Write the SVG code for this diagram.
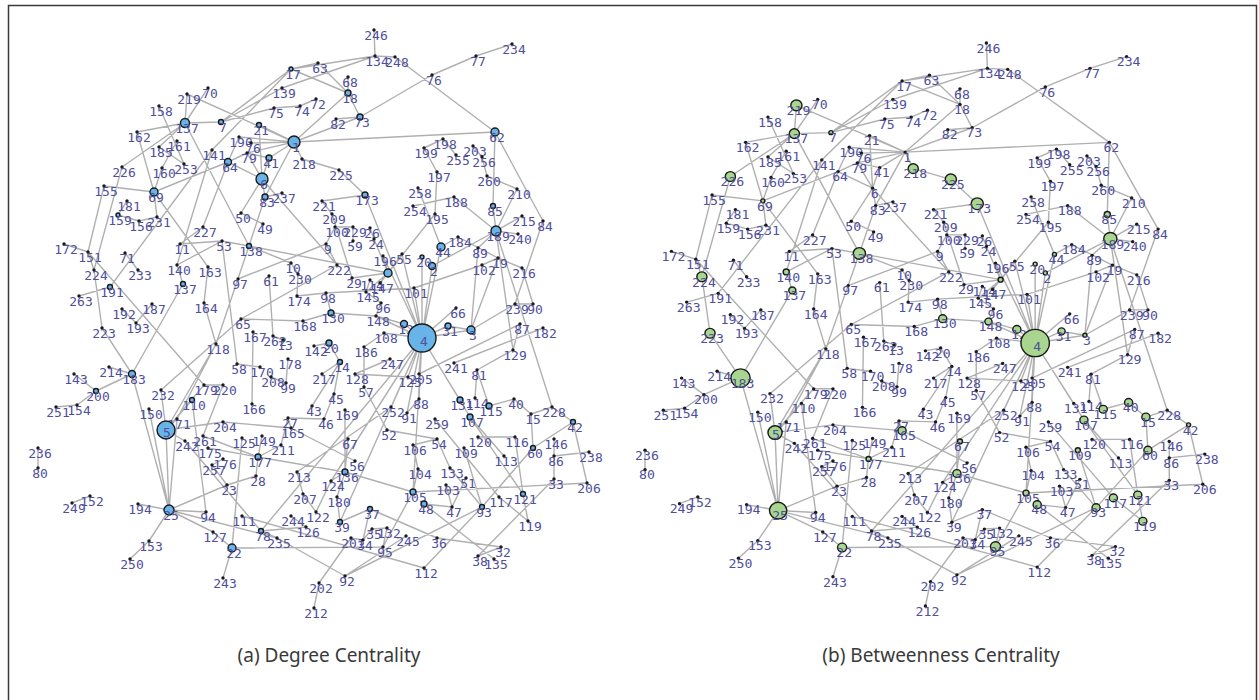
<svg xmlns="http://www.w3.org/2000/svg" xmlns:xlink="http://www.w3.org/1999/xlink" width="1259" height="700" viewBox="0 0 1259 700">
<style>
.edges{fill:none;stroke:#b0b0b0;stroke-width:1.4}
text{font-family:"DejaVu Sans Mono","Liberation Mono",monospace;font-size:13px;fill:#4f4f9c;text-anchor:middle}
.d{fill:#1a1a1a}
#panel-a .r{fill:#68b4e8;stroke:#1a1a1a;stroke-width:1.4}
#panel-b .r{fill:#a8d68e;stroke:#1a1a1a;stroke-width:1.4}
.cap{font-family:"Noto Sans","Open Sans",sans-serif;font-size:19px;fill:#3a3a3a;text-anchor:middle}
</style>
<rect x="0" y="0" width="1259" height="700" fill="#fff"/>
<rect x="8.5" y="5.5" width="1248" height="700" fill="none" stroke="#3a3a3a" stroke-width="1.5"/>
<g id="panel-a">
<g id="edges-a" class="edges"><path id="edgepath" d="M374,30L375,56M375,56L395,57M291,69L375,56M282,88L375,56M395,57L495,132M432,75L476,56M476,56L512,44M360,117L432,75M291,69L318,63M291,69L348,93M318,63L348,93M348,77L348,93M348,93L360,117M336,119L360,117M294,142L348,93M294,142L360,117M294,142L495,132M221,122L291,69M221,122L274,108M274,108L300,106M300,106L316,99M221,122L282,88M208,88L185,123M187,94L185,123M187,94L294,142M159,106L184,164M137,132L185,123M137,132L154,192M122,167L185,123M185,123L221,122M185,123L159,147M159,147L184,164M177,141L162,168M162,168L154,192M185,123L249,246M212,150L177,265M212,150L291,69M154,192L228,162M228,162L247,153M239,137L294,142M251,143L294,142M247,153L294,142M247,153L269,158M259,125L294,142M259,125L262,179M294,142L265,197M302,159L339,170M294,142L302,159M262,179L265,197M262,179L269,158M262,179L247,153M228,162L262,179M262,179L337,265M265,197L282,193M265,197L249,246M241,213L263,224M241,213L262,179M203,227L228,162M203,227L180,244M180,244L222,241M222,241L249,246M249,246L291,263M64,244L88,252M88,252L94,270M88,252L204,385M94,270L102,328M79,296L110,287M110,287L212,150M125,253L138,270M122,309L136,323M136,323L152,304M177,265L183,284M183,284L132,374M208,267L204,303M204,303L216,344M222,241L237,364M249,246L216,344M238,279L326,244M269,276L273,336M241,319L337,265M339,170L365,195M322,201L365,195M365,195L422,338M104,186L154,192M104,186L88,252M122,167L94,270M154,192L157,217M118,215L139,221M127,201L118,215M154,192L208,267M177,265L222,241M139,221L157,217M443,139L424,148M443,139L456,155M424,148L437,172M437,172L435,214M473,146L482,157M482,157L487,176M487,176L517,189M517,189L496,231M418,188L441,247M413,206L454,197M435,214L388,273M518,234L496,231M458,237L441,247M458,237L498,258M498,258L522,268M441,247L422,338M432,266L422,338M422,257L422,338M432,266L496,231M482,265L414,288M482,265L498,258M478,248L471,330M498,258L471,330M471,330L515,304M471,330L448,326M448,326L422,338M471,330L422,338M456,308L422,338M454,363L543,328M477,370L513,350M477,370L475,398M477,370L489,406M489,406L514,399M514,399L531,414M515,304L533,304M533,304L522,268M543,221L515,304M495,132L493,206M495,132L543,221M493,206L496,231M522,216L496,231M496,231L454,197M496,231L478,248M496,231L513,350M496,231L552,407M419,374L520,324M520,324L513,350M422,338L419,374M422,338L408,377M422,338L419,399M422,338L407,413M422,338L391,407M422,338L460,400M422,338L470,417M422,338L413,492M422,338L331,481M422,338L340,522M422,338L404,324M422,338L384,333M422,338L376,316M422,338L414,288M422,338L402,254M422,338L383,256M132,374L109,367M132,374L96,391M96,391L74,374M96,391L77,405M77,405L56,407M132,374L169,510M132,374L102,328M166,430L161,390M166,430L177,419M166,430L223,422M166,430L216,344M166,430L204,385M166,430L169,510M177,419L169,510M149,409L169,510M192,400L206,512M192,400L166,430M204,385L223,385M223,422L291,428M203,436L258,457M208,448L258,457M258,457L345,472M345,472L413,492M185,441L261,531M185,441L166,430M227,485L256,476M169,510L227,485M169,510L206,512M169,510L213,532M213,532L232,548M169,510L277,538M169,510L149,541M149,541L130,559M138,504L169,510M232,548L383,547M232,548L223,578M232,548L242,438M242,516L424,568M297,472L303,494M297,472L391,407M291,428L355,461M345,472L348,439M345,472L337,497M337,497L340,522M345,472L345,410M331,481L316,512M370,509L340,522M370,509L437,538M370,509L363,540M351,538L319,583M319,583L314,608M345,576L482,507M277,538L345,576M261,531L422,338M261,531L277,538M383,547L413,492M437,538L501,547M501,547L478,556M478,556L554,479M424,504L494,559M424,504L452,507M413,492L587,483M418,469L413,492M446,485L452,507M387,430L437,439M364,387L387,430M407,413L419,399M435,419L499,497M413,445L418,469M413,445L437,439M464,448L482,507M478,437L515,437M515,437L523,494M523,494L528,521M523,494L470,417M533,448L531,414M533,448L573,422M533,448L482,507M573,422L587,483M573,422L552,407M552,407L531,414M554,439L554,456M554,456L589,452M554,456L554,479M504,456L470,417M437,439L450,468M450,468L482,507M466,478L452,507M528,521L499,497M424,568L482,507M38,448L38,468M90,496L72,503M326,244L337,265M388,273L374,239M388,273L383,256M388,273L402,254M388,273L249,246M366,292L381,303M381,303L376,316M376,316L331,313M331,313L326,293M326,293L414,288M376,316L404,324M303,321L331,313M241,319L303,321M297,296L298,274M291,263L298,274M297,296L326,293M314,346L329,343M329,343L340,362M340,362L322,374M340,362L334,394M334,394L324,419M312,406L340,362M355,374L408,377M355,374L390,359M364,347L384,333M288,359L286,383M271,377L286,383M260,367L237,364M253,332L252,404M283,340L273,336M366,292L388,273M380,283L388,273M370,280L366,292M352,278L388,273M353,241L353,227M353,227L335,227M370,228L374,239M335,227L326,244M332,214L322,201M332,214L352,278M364,387L364,347M262,436L258,457M281,445L288,418M281,445L258,457M288,418L324,419M291,428L288,418M256,476L258,457M223,459L212,465M212,465L227,485M291,516L306,527M306,527L261,531M331,481L345,472M303,494L316,512M372,529L387,528M387,528L383,547M406,536L345,576M363,540L372,529M351,538L363,540M177,419L216,344M223,385L203,436M241,319L161,390M294,142L269,158M228,162L239,137"/></g>
<g id="a246"><circle class="d" cx="374" cy="30" r="1.7"/><text x="376" y="40">246</text></g>
<g id="a134"><circle class="d" cx="375" cy="56" r="1.7"/><text x="377" y="66">134</text></g>
<g id="a248"><circle class="d" cx="395" cy="57" r="1.7"/><text x="397" y="67">248</text></g>
<g id="a234"><circle class="d" cx="512" cy="44" r="1.7"/><text x="514" y="54">234</text></g>
<g id="a77"><circle class="d" cx="476" cy="56" r="1.7"/><text x="478" y="66">77</text></g>
<g id="a76"><circle class="d" cx="432" cy="75" r="1.7"/><text x="434" y="85">76</text></g>
<g id="a17"><circle class="r" cx="291" cy="69" r="2"/><text x="293" y="79">17</text></g>
<g id="a63"><circle class="d" cx="318" cy="63" r="1.7"/><text x="320" y="73">63</text></g>
<g id="a68"><circle class="d" cx="348" cy="77" r="1.7"/><text x="350" y="87">68</text></g>
<g id="a18"><circle class="r" cx="348" cy="93" r="3"/><text x="350" y="103">18</text></g>
<g id="a139"><circle class="d" cx="282" cy="88" r="1.7"/><text x="284" y="98">139</text></g>
<g id="a72"><circle class="d" cx="316" cy="99" r="1.7"/><text x="318" y="109">72</text></g>
<g id="a75"><circle class="d" cx="274" cy="108" r="1.7"/><text x="276" y="118">75</text></g>
<g id="a74"><circle class="d" cx="300" cy="106" r="1.7"/><text x="302" y="116">74</text></g>
<g id="a82"><circle class="d" cx="336" cy="119" r="1.7"/><text x="338" y="129">82</text></g>
<g id="a73"><circle class="r" cx="360" cy="117" r="3"/><text x="362" y="127">73</text></g>
<g id="a219"><circle class="d" cx="187" cy="94" r="1.7"/><text x="189" y="104">219</text></g>
<g id="a70"><circle class="d" cx="208" cy="88" r="1.7"/><text x="210" y="98">70</text></g>
<g id="a158"><circle class="d" cx="159" cy="106" r="1.7"/><text x="161" y="116">158</text></g>
<g id="a137"><circle class="r" cx="185" cy="123" r="4.5"/><text x="187" y="133">137</text></g>
<g id="a7"><circle class="r" cx="221" cy="122" r="2.5"/><text x="223" y="132">7</text></g>
<g id="a162"><circle class="d" cx="137" cy="132" r="1.7"/><text x="139" y="142">162</text></g>
<g id="a161"><circle class="d" cx="177" cy="141" r="1.7"/><text x="179" y="151">161</text></g>
<g id="a185"><circle class="d" cx="159" cy="147" r="1.7"/><text x="161" y="157">185</text></g>
<g id="a141"><circle class="d" cx="212" cy="150" r="1.7"/><text x="214" y="160">141</text></g>
<g id="a64"><circle class="r" cx="228" cy="162" r="3.5"/><text x="230" y="172">64</text></g>
<g id="a226"><circle class="d" cx="122" cy="167" r="1.7"/><text x="124" y="177">226</text></g>
<g id="a160"><circle class="d" cx="162" cy="168" r="1.7"/><text x="164" y="178">160</text></g>
<g id="a253"><circle class="d" cx="184" cy="164" r="1.7"/><text x="186" y="174">253</text></g>
<g id="a155"><circle class="d" cx="104" cy="186" r="1.7"/><text x="106" y="196">155</text></g>
<g id="a69"><circle class="r" cx="154" cy="192" r="4"/><text x="156" y="202">69</text></g>
<g id="a181"><circle class="d" cx="127" cy="201" r="1.7"/><text x="129" y="211">181</text></g>
<g id="a159"><circle class="r" cx="118" cy="215" r="2"/><text x="120" y="225">159</text></g>
<g id="a156"><circle class="d" cx="139" cy="221" r="1.7"/><text x="141" y="231">156</text></g>
<g id="a231"><circle class="d" cx="157" cy="217" r="1.7"/><text x="159" y="227">231</text></g>
<g id="a21"><circle class="r" cx="259" cy="125" r="2.5"/><text x="261" y="135">21</text></g>
<g id="a190"><circle class="d" cx="239" cy="137" r="1.7"/><text x="241" y="147">190</text></g>
<g id="a76-2"><circle class="d" cx="251" cy="143" r="1.7"/><text x="253" y="153">76</text></g>
<g id="a1"><circle class="r" cx="294" cy="142" r="6"/><text x="296" y="152">1</text></g>
<g id="a79"><circle class="d" cx="247" cy="153" r="1.7"/><text x="249" y="163">79</text></g>
<g id="a41"><circle class="r" cx="269" cy="158" r="3"/><text x="271" y="168">41</text></g>
<g id="a218"><circle class="d" cx="302" cy="159" r="1.7"/><text x="304" y="169">218</text></g>
<g id="a225"><circle class="d" cx="339" cy="170" r="1.7"/><text x="341" y="180">225</text></g>
<g id="a6"><circle class="r" cx="262" cy="179" r="6"/><text x="264" y="189">6</text></g>
<g id="a83"><circle class="r" cx="265" cy="197" r="3"/><text x="267" y="207">83</text></g>
<g id="a237"><circle class="d" cx="282" cy="193" r="1.7"/><text x="284" y="203">237</text></g>
<g id="a221"><circle class="d" cx="322" cy="201" r="1.7"/><text x="324" y="211">221</text></g>
<g id="a173"><circle class="r" cx="365" cy="195" r="3"/><text x="367" y="205">173</text></g>
<g id="a209"><circle class="d" cx="332" cy="214" r="1.7"/><text x="334" y="224">209</text></g>
<g id="a50"><circle class="d" cx="241" cy="213" r="1.7"/><text x="243" y="223">50</text></g>
<g id="a49"><circle class="d" cx="263" cy="224" r="1.7"/><text x="265" y="234">49</text></g>
<g id="a62"><circle class="r" cx="495" cy="132" r="4"/><text x="497" y="142">62</text></g>
<g id="a198"><circle class="d" cx="443" cy="139" r="1.7"/><text x="445" y="149">198</text></g>
<g id="a199"><circle class="d" cx="424" cy="148" r="1.7"/><text x="426" y="158">199</text></g>
<g id="a203"><circle class="d" cx="473" cy="146" r="1.7"/><text x="475" y="156">203</text></g>
<g id="a255"><circle class="d" cx="456" cy="155" r="1.7"/><text x="458" y="165">255</text></g>
<g id="a256"><circle class="d" cx="482" cy="157" r="1.7"/><text x="484" y="167">256</text></g>
<g id="a197"><circle class="d" cx="437" cy="172" r="1.7"/><text x="439" y="182">197</text></g>
<g id="a260"><circle class="d" cx="487" cy="176" r="1.7"/><text x="489" y="186">260</text></g>
<g id="a258"><circle class="d" cx="418" cy="188" r="1.7"/><text x="420" y="198">258</text></g>
<g id="a210"><circle class="d" cx="517" cy="189" r="1.7"/><text x="519" y="199">210</text></g>
<g id="a188"><circle class="d" cx="454" cy="197" r="1.7"/><text x="456" y="207">188</text></g>
<g id="a85"><circle class="r" cx="493" cy="206" r="2.5"/><text x="495" y="216">85</text></g>
<g id="a254"><circle class="d" cx="413" cy="206" r="1.7"/><text x="415" y="216">254</text></g>
<g id="a195"><circle class="d" cx="435" cy="214" r="1.7"/><text x="437" y="224">195</text></g>
<g id="a215"><circle class="d" cx="522" cy="216" r="1.7"/><text x="524" y="226">215</text></g>
<g id="a84"><circle class="d" cx="543" cy="221" r="1.7"/><text x="545" y="231">84</text></g>
<g id="a227"><circle class="d" cx="203" cy="227" r="1.7"/><text x="205" y="237">227</text></g>
<g id="a172"><circle class="d" cx="64" cy="244" r="1.7"/><text x="66" y="254">172</text></g>
<g id="a151"><circle class="d" cx="88" cy="252" r="1.7"/><text x="90" y="262">151</text></g>
<g id="a11"><circle class="d" cx="180" cy="244" r="1.7"/><text x="182" y="254">11</text></g>
<g id="a53"><circle class="d" cx="222" cy="241" r="1.7"/><text x="224" y="251">53</text></g>
<g id="a71"><circle class="d" cx="125" cy="253" r="1.7"/><text x="127" y="263">71</text></g>
<g id="a140"><circle class="d" cx="177" cy="265" r="1.7"/><text x="179" y="275">140</text></g>
<g id="a163"><circle class="d" cx="208" cy="267" r="1.7"/><text x="210" y="277">163</text></g>
<g id="a224"><circle class="d" cx="94" cy="270" r="1.7"/><text x="96" y="280">224</text></g>
<g id="a233"><circle class="d" cx="138" cy="270" r="1.7"/><text x="140" y="280">233</text></g>
<g id="a137-2"><circle class="r" cx="183" cy="284" r="2.5"/><text x="185" y="294">137</text></g>
<g id="a191"><circle class="r" cx="110" cy="287" r="2.5"/><text x="112" y="297">191</text></g>
<g id="a263"><circle class="d" cx="79" cy="296" r="1.7"/><text x="81" y="306">263</text></g>
<g id="a164"><circle class="d" cx="204" cy="303" r="1.7"/><text x="206" y="313">164</text></g>
<g id="a192"><circle class="d" cx="122" cy="309" r="1.7"/><text x="124" y="319">192</text></g>
<g id="a187"><circle class="d" cx="152" cy="304" r="1.7"/><text x="154" y="314">187</text></g>
<g id="a193"><circle class="d" cx="136" cy="323" r="1.7"/><text x="138" y="333">193</text></g>
<g id="a223"><circle class="d" cx="102" cy="328" r="1.7"/><text x="104" y="338">223</text></g>
<g id="a118"><circle class="d" cx="216" cy="344" r="1.7"/><text x="218" y="354">118</text></g>
<g id="a214"><circle class="d" cx="109" cy="367" r="1.7"/><text x="111" y="377">214</text></g>
<g id="a183"><circle class="r" cx="132" cy="374" r="3.5"/><text x="134" y="384">183</text></g>
<g id="a143"><circle class="d" cx="74" cy="374" r="1.7"/><text x="76" y="384">143</text></g>
<g id="a200"><circle class="r" cx="96" cy="391" r="2.5"/><text x="98" y="401">200</text></g>
<g id="a232"><circle class="d" cx="161" cy="390" r="1.7"/><text x="163" y="400">232</text></g>
<g id="a110"><circle class="r" cx="192" cy="400" r="2.5"/><text x="194" y="410">110</text></g>
<g id="a179"><circle class="d" cx="204" cy="385" r="1.7"/><text x="206" y="395">179</text></g>
<g id="a220"><circle class="d" cx="223" cy="385" r="1.7"/><text x="225" y="395">220</text></g>
<g id="a150"><circle class="d" cx="149" cy="409" r="1.7"/><text x="151" y="419">150</text></g>
<g id="a251"><circle class="d" cx="56" cy="407" r="1.7"/><text x="58" y="417">251</text></g>
<g id="a154"><circle class="d" cx="77" cy="405" r="1.7"/><text x="79" y="415">154</text></g>
<g id="a100"><circle class="d" cx="335" cy="227" r="1.7"/><text x="337" y="237">100</text></g>
<g id="a229"><circle class="d" cx="353" cy="227" r="1.7"/><text x="355" y="237">229</text></g>
<g id="a26"><circle class="d" cx="370" cy="228" r="1.7"/><text x="372" y="238">26</text></g>
<g id="a24"><circle class="d" cx="374" cy="239" r="1.7"/><text x="376" y="249">24</text></g>
<g id="a9"><circle class="d" cx="326" cy="244" r="1.7"/><text x="328" y="254">9</text></g>
<g id="a59"><circle class="d" cx="353" cy="241" r="1.7"/><text x="355" y="251">59</text></g>
<g id="a138"><circle class="r" cx="249" cy="246" r="2.5"/><text x="251" y="256">138</text></g>
<g id="a196"><circle class="d" cx="383" cy="256" r="1.7"/><text x="385" y="266">196</text></g>
<g id="a55"><circle class="d" cx="402" cy="254" r="1.7"/><text x="404" y="264">55</text></g>
<g id="a10"><circle class="d" cx="291" cy="263" r="1.7"/><text x="293" y="273">10</text></g>
<g id="a230"><circle class="d" cx="298" cy="274" r="1.7"/><text x="300" y="284">230</text></g>
<g id="a61"><circle class="d" cx="269" cy="276" r="1.7"/><text x="271" y="286">61</text></g>
<g id="a97"><circle class="d" cx="238" cy="279" r="1.7"/><text x="240" y="289">97</text></g>
<g id="a222"><circle class="d" cx="337" cy="265" r="1.7"/><text x="339" y="275">222</text></g>
<g id="a-hub"><circle class="r" cx="388" cy="273" r="4"/></g>
<g id="a29"><circle class="d" cx="352" cy="278" r="1.7"/><text x="354" y="288">29</text></g>
<g id="a114-2"><circle class="d" cx="370" cy="280" r="1.7"/><text x="372" y="290">114</text></g>
<g id="a147"><circle class="d" cx="380" cy="283" r="1.7"/><text x="382" y="293">147</text></g>
<g id="a101"><circle class="d" cx="414" cy="288" r="1.7"/><text x="416" y="298">101</text></g>
<g id="a174"><circle class="d" cx="297" cy="296" r="1.7"/><text x="299" y="306">174</text></g>
<g id="a98"><circle class="d" cx="326" cy="293" r="1.7"/><text x="328" y="303">98</text></g>
<g id="a145"><circle class="d" cx="366" cy="292" r="1.7"/><text x="368" y="302">145</text></g>
<g id="a96"><circle class="d" cx="381" cy="303" r="1.7"/><text x="383" y="313">96</text></g>
<g id="a65"><circle class="d" cx="241" cy="319" r="1.7"/><text x="243" y="329">65</text></g>
<g id="a168"><circle class="d" cx="303" cy="321" r="1.7"/><text x="305" y="331">168</text></g>
<g id="a130"><circle class="r" cx="331" cy="313" r="3"/><text x="333" y="323">130</text></g>
<g id="a148"><circle class="d" cx="376" cy="316" r="1.7"/><text x="378" y="326">148</text></g>
<g id="a12"><circle class="r" cx="404" cy="324" r="3.5"/><text x="406" y="334">12</text></g>
<g id="a167"><circle class="d" cx="253" cy="332" r="1.7"/><text x="255" y="342">167</text></g>
<g id="a262"><circle class="d" cx="273" cy="336" r="1.7"/><text x="275" y="346">262</text></g>
<g id="a13"><circle class="d" cx="283" cy="340" r="1.7"/><text x="285" y="350">13</text></g>
<g id="a108"><circle class="d" cx="384" cy="333" r="1.7"/><text x="386" y="343">108</text></g>
<g id="a142"><circle class="d" cx="314" cy="346" r="1.7"/><text x="316" y="356">142</text></g>
<g id="a20-2"><circle class="r" cx="329" cy="343" r="3"/><text x="331" y="353">20</text></g>
<g id="a186"><circle class="d" cx="364" cy="347" r="1.7"/><text x="366" y="357">186</text></g>
<g id="a58"><circle class="d" cx="237" cy="364" r="1.7"/><text x="239" y="374">58</text></g>
<g id="a170"><circle class="d" cx="260" cy="367" r="1.7"/><text x="262" y="377">170</text></g>
<g id="a178"><circle class="d" cx="288" cy="359" r="1.7"/><text x="290" y="369">178</text></g>
<g id="a14"><circle class="r" cx="340" cy="362" r="2.5"/><text x="342" y="372">14</text></g>
<g id="a247"><circle class="d" cx="390" cy="359" r="1.7"/><text x="392" y="369">247</text></g>
<g id="a217"><circle class="d" cx="322" cy="374" r="1.7"/><text x="324" y="384">217</text></g>
<g id="a128"><circle class="d" cx="355" cy="374" r="1.7"/><text x="357" y="384">128</text></g>
<g id="a208"><circle class="d" cx="271" cy="377" r="1.7"/><text x="273" y="387">208</text></g>
<g id="a99"><circle class="d" cx="286" cy="383" r="1.7"/><text x="288" y="393">99</text></g>
<g id="a125-2"><circle class="d" cx="408" cy="377" r="1.7"/><text x="410" y="387">125</text></g>
<g id="a205"><circle class="d" cx="419" cy="374" r="1.7"/><text x="421" y="384">205</text></g>
<g id="a57"><circle class="d" cx="364" cy="387" r="1.7"/><text x="366" y="397">57</text></g>
<g id="a45"><circle class="d" cx="334" cy="394" r="1.7"/><text x="336" y="404">45</text></g>
<g id="a166"><circle class="d" cx="252" cy="404" r="1.7"/><text x="254" y="414">166</text></g>
<g id="a43"><circle class="d" cx="312" cy="406" r="1.7"/><text x="314" y="416">43</text></g>
<g id="a252"><circle class="d" cx="391" cy="407" r="1.7"/><text x="393" y="417">252</text></g>
<g id="a169"><circle class="d" cx="345" cy="410" r="1.7"/><text x="347" y="420">169</text></g>
<g id="a88"><circle class="d" cx="419" cy="399" r="1.7"/><text x="421" y="409">88</text></g>
<g id="a91"><circle class="d" cx="407" cy="413" r="1.7"/><text x="409" y="423">91</text></g>
<g id="a2"><circle class="r" cx="432" cy="266" r="3.5"/><text x="434" y="276">2</text></g>
<g id="a20"><circle class="r" cx="422" cy="257" r="2"/><text x="424" y="267">20</text></g>
<g id="a189"><circle class="r" cx="496" cy="231" r="5"/><text x="498" y="241">189</text></g>
<g id="a240"><circle class="d" cx="518" cy="234" r="1.7"/><text x="520" y="244">240</text></g>
<g id="a184"><circle class="d" cx="458" cy="237" r="1.7"/><text x="460" y="247">184</text></g>
<g id="a44"><circle class="r" cx="441" cy="247" r="4"/><text x="443" y="257">44</text></g>
<g id="a89"><circle class="d" cx="478" cy="248" r="1.7"/><text x="480" y="258">89</text></g>
<g id="a19"><circle class="d" cx="498" cy="258" r="1.7"/><text x="500" y="268">19</text></g>
<g id="a102"><circle class="d" cx="482" cy="265" r="1.7"/><text x="484" y="275">102</text></g>
<g id="a216"><circle class="d" cx="522" cy="268" r="1.7"/><text x="524" y="278">216</text></g>
<g id="a66"><circle class="d" cx="456" cy="308" r="1.7"/><text x="458" y="318">66</text></g>
<g id="a239"><circle class="d" cx="515" cy="304" r="1.7"/><text x="517" y="314">239</text></g>
<g id="a90"><circle class="d" cx="533" cy="304" r="1.7"/><text x="535" y="314">90</text></g>
<g id="a31"><circle class="r" cx="448" cy="326" r="3"/><text x="450" y="336">31</text></g>
<g id="a3"><circle class="r" cx="471" cy="330" r="4"/><text x="473" y="340">3</text></g>
<g id="a4"><circle class="r" cx="422" cy="338" r="14"/><text x="424" y="346">4</text></g>
<g id="a87"><circle class="d" cx="520" cy="324" r="1.7"/><text x="522" y="334">87</text></g>
<g id="a182"><circle class="d" cx="543" cy="328" r="1.7"/><text x="545" y="338">182</text></g>
<g id="a129"><circle class="d" cx="513" cy="350" r="1.7"/><text x="515" y="360">129</text></g>
<g id="a241"><circle class="d" cx="454" cy="363" r="1.7"/><text x="456" y="373">241</text></g>
<g id="a81"><circle class="d" cx="477" cy="370" r="1.7"/><text x="479" y="380">81</text></g>
<g id="a131"><circle class="r" cx="460" cy="400" r="3"/><text x="462" y="410">131</text></g>
<g id="a114"><circle class="d" cx="475" cy="398" r="1.7"/><text x="477" y="408">114</text></g>
<g id="a115"><circle class="r" cx="489" cy="406" r="3"/><text x="491" y="416">115</text></g>
<g id="a40"><circle class="d" cx="514" cy="399" r="1.7"/><text x="516" y="409">40</text></g>
<g id="a228"><circle class="d" cx="552" cy="407" r="1.7"/><text x="554" y="417">228</text></g>
<g id="a171"><circle class="d" cx="177" cy="419" r="1.7"/><text x="179" y="429">171</text></g>
<g id="a5"><circle class="r" cx="166" cy="430" r="9"/><text x="167" y="437">5</text></g>
<g id="a204"><circle class="d" cx="223" cy="422" r="1.7"/><text x="225" y="432">204</text></g>
<g id="a242"><circle class="d" cx="185" cy="441" r="1.7"/><text x="187" y="451">242</text></g>
<g id="a261"><circle class="d" cx="203" cy="436" r="1.7"/><text x="205" y="446">261</text></g>
<g id="a175"><circle class="d" cx="208" cy="448" r="1.7"/><text x="210" y="458">175</text></g>
<g id="a176"><circle class="d" cx="223" cy="459" r="1.7"/><text x="225" y="469">176</text></g>
<g id="a257"><circle class="d" cx="212" cy="465" r="1.7"/><text x="214" y="475">257</text></g>
<g id="a236"><circle class="d" cx="38" cy="448" r="1.7"/><text x="40" y="458">236</text></g>
<g id="a80"><circle class="d" cx="38" cy="468" r="1.7"/><text x="40" y="478">80</text></g>
<g id="a152"><circle class="d" cx="90" cy="496" r="1.7"/><text x="92" y="506">152</text></g>
<g id="a249"><circle class="d" cx="72" cy="503" r="1.7"/><text x="74" y="513">249</text></g>
<g id="a194"><circle class="d" cx="138" cy="504" r="1.7"/><text x="140" y="514">194</text></g>
<g id="a25"><circle class="r" cx="169" cy="510" r="5"/><text x="171" y="520">25</text></g>
<g id="a94"><circle class="d" cx="206" cy="512" r="1.7"/><text x="208" y="522">94</text></g>
<g id="a23"><circle class="d" cx="227" cy="485" r="1.7"/><text x="229" y="495">23</text></g>
<g id="a127"><circle class="d" cx="213" cy="532" r="1.7"/><text x="215" y="542">127</text></g>
<g id="a153"><circle class="d" cx="149" cy="541" r="1.7"/><text x="151" y="551">153</text></g>
<g id="a22"><circle class="r" cx="232" cy="548" r="4"/><text x="234" y="558">22</text></g>
<g id="a250"><circle class="d" cx="130" cy="559" r="1.7"/><text x="132" y="569">250</text></g>
<g id="a243"><circle class="d" cx="223" cy="578" r="1.7"/><text x="225" y="588">243</text></g>
<g id="a27"><circle class="d" cx="288" cy="418" r="1.7"/><text x="290" y="428">27</text></g>
<g id="a46"><circle class="d" cx="324" cy="419" r="1.7"/><text x="326" y="429">46</text></g>
<g id="a165"><circle class="d" cx="291" cy="428" r="1.7"/><text x="293" y="438">165</text></g>
<g id="a125"><circle class="d" cx="242" cy="438" r="1.7"/><text x="244" y="448">125</text></g>
<g id="a149"><circle class="d" cx="262" cy="436" r="1.7"/><text x="264" y="446">149</text></g>
<g id="a211"><circle class="d" cx="281" cy="445" r="1.7"/><text x="283" y="455">211</text></g>
<g id="a52"><circle class="d" cx="387" cy="430" r="1.7"/><text x="389" y="440">52</text></g>
<g id="a67"><circle class="d" cx="348" cy="439" r="1.7"/><text x="350" y="449">67</text></g>
<g id="a177"><circle class="r" cx="258" cy="457" r="3"/><text x="260" y="467">177</text></g>
<g id="a106"><circle class="d" cx="413" cy="445" r="1.7"/><text x="415" y="455">106</text></g>
<g id="a56"><circle class="d" cx="355" cy="461" r="1.7"/><text x="357" y="471">56</text></g>
<g id="a136"><circle class="r" cx="345" cy="472" r="3"/><text x="347" y="482">136</text></g>
<g id="a104"><circle class="d" cx="418" cy="469" r="1.7"/><text x="420" y="479">104</text></g>
<g id="a213"><circle class="d" cx="297" cy="472" r="1.7"/><text x="299" y="482">213</text></g>
<g id="a28"><circle class="d" cx="256" cy="476" r="1.7"/><text x="258" y="486">28</text></g>
<g id="a124"><circle class="d" cx="331" cy="481" r="1.7"/><text x="333" y="491">124</text></g>
<g id="a207"><circle class="d" cx="303" cy="494" r="1.7"/><text x="305" y="504">207</text></g>
<g id="a180"><circle class="d" cx="337" cy="497" r="1.7"/><text x="339" y="507">180</text></g>
<g id="a105"><circle class="r" cx="413" cy="492" r="3"/><text x="415" y="502">105</text></g>
<g id="a111"><circle class="d" cx="242" cy="516" r="1.7"/><text x="244" y="526">111</text></g>
<g id="a244"><circle class="d" cx="291" cy="516" r="1.7"/><text x="293" y="526">244</text></g>
<g id="a122"><circle class="d" cx="316" cy="512" r="1.7"/><text x="318" y="522">122</text></g>
<g id="a126"><circle class="d" cx="306" cy="527" r="1.7"/><text x="308" y="537">126</text></g>
<g id="a37"><circle class="r" cx="370" cy="509" r="2.5"/><text x="372" y="519">37</text></g>
<g id="a39"><circle class="r" cx="340" cy="522" r="2.5"/><text x="342" y="532">39</text></g>
<g id="a78"><circle class="r" cx="261" cy="531" r="2.5"/><text x="263" y="541">78</text></g>
<g id="a235"><circle class="d" cx="277" cy="538" r="1.7"/><text x="279" y="548">235</text></g>
<g id="a201"><circle class="d" cx="351" cy="538" r="1.7"/><text x="353" y="548">201</text></g>
<g id="a34"><circle class="d" cx="363" cy="540" r="1.7"/><text x="365" y="550">34</text></g>
<g id="a35"><circle class="d" cx="372" cy="529" r="1.7"/><text x="374" y="539">35</text></g>
<g id="a132"><circle class="d" cx="387" cy="528" r="1.7"/><text x="389" y="538">132</text></g>
<g id="a245"><circle class="d" cx="406" cy="536" r="1.7"/><text x="408" y="546">245</text></g>
<g id="a95"><circle class="d" cx="383" cy="547" r="1.7"/><text x="385" y="557">95</text></g>
<g id="a92"><circle class="d" cx="345" cy="576" r="1.7"/><text x="347" y="586">92</text></g>
<g id="a202"><circle class="d" cx="319" cy="583" r="1.7"/><text x="321" y="593">202</text></g>
<g id="a212"><circle class="d" cx="314" cy="608" r="1.7"/><text x="316" y="618">212</text></g>
<g id="a107"><circle class="r" cx="470" cy="417" r="3"/><text x="472" y="427">107</text></g>
<g id="a15"><circle class="d" cx="531" cy="414" r="1.7"/><text x="533" y="424">15</text></g>
<g id="a42"><circle class="r" cx="573" cy="422" r="2.5"/><text x="575" y="432">42</text></g>
<g id="a259"><circle class="d" cx="435" cy="419" r="1.7"/><text x="437" y="429">259</text></g>
<g id="a54"><circle class="d" cx="437" cy="439" r="1.7"/><text x="439" y="449">54</text></g>
<g id="a120"><circle class="d" cx="478" cy="437" r="1.7"/><text x="480" y="447">120</text></g>
<g id="a116"><circle class="d" cx="515" cy="437" r="1.7"/><text x="517" y="447">116</text></g>
<g id="a60"><circle class="r" cx="533" cy="448" r="2.5"/><text x="535" y="458">60</text></g>
<g id="a146"><circle class="d" cx="554" cy="439" r="1.7"/><text x="556" y="449">146</text></g>
<g id="a109"><circle class="d" cx="464" cy="448" r="1.7"/><text x="466" y="458">109</text></g>
<g id="a113"><circle class="d" cx="504" cy="456" r="1.7"/><text x="506" y="466">113</text></g>
<g id="a86"><circle class="d" cx="554" cy="456" r="1.7"/><text x="556" y="466">86</text></g>
<g id="a238"><circle class="d" cx="589" cy="452" r="1.7"/><text x="591" y="462">238</text></g>
<g id="a133"><circle class="d" cx="450" cy="468" r="1.7"/><text x="452" y="478">133</text></g>
<g id="a51"><circle class="d" cx="466" cy="478" r="1.7"/><text x="468" y="488">51</text></g>
<g id="a103"><circle class="d" cx="446" cy="485" r="1.7"/><text x="448" y="495">103</text></g>
<g id="a33"><circle class="d" cx="554" cy="479" r="1.7"/><text x="556" y="489">33</text></g>
<g id="a206"><circle class="d" cx="587" cy="483" r="1.7"/><text x="589" y="493">206</text></g>
<g id="a121"><circle class="r" cx="523" cy="494" r="2.5"/><text x="525" y="504">121</text></g>
<g id="a117"><circle class="d" cx="499" cy="497" r="1.7"/><text x="501" y="507">117</text></g>
<g id="a48"><circle class="r" cx="424" cy="504" r="3"/><text x="426" y="514">48</text></g>
<g id="a47"><circle class="d" cx="452" cy="507" r="1.7"/><text x="454" y="517">47</text></g>
<g id="a93"><circle class="r" cx="482" cy="507" r="2.5"/><text x="484" y="517">93</text></g>
<g id="a119"><circle class="d" cx="528" cy="521" r="1.7"/><text x="530" y="531">119</text></g>
<g id="a36"><circle class="d" cx="437" cy="538" r="1.7"/><text x="439" y="548">36</text></g>
<g id="a32"><circle class="d" cx="501" cy="547" r="1.7"/><text x="503" y="557">32</text></g>
<g id="a38"><circle class="d" cx="478" cy="556" r="1.7"/><text x="480" y="566">38</text></g>
<g id="a135"><circle class="d" cx="494" cy="559" r="1.7"/><text x="496" y="569">135</text></g>
<g id="a112"><circle class="d" cx="424" cy="568" r="1.7"/><text x="426" y="578">112</text></g>
</g>
<g id="panel-b" transform="matrix(1.016 0 0 0.974 606.4 13.8)">
<g id="edges-b" class="edges"><use href="#edgepath" xlink:href="#edgepath"/></g>
<g id="b246"><circle class="d" cx="374" cy="30" r="1.7"/><text x="376" y="40">246</text></g>
<g id="b134"><circle class="d" cx="375" cy="56" r="1.7"/><text x="377" y="66">134</text></g>
<g id="b248"><circle class="d" cx="395" cy="57" r="1.7"/><text x="397" y="67">248</text></g>
<g id="b234"><circle class="d" cx="512" cy="44" r="1.7"/><text x="514" y="54">234</text></g>
<g id="b77"><circle class="d" cx="476" cy="56" r="1.7"/><text x="478" y="66">77</text></g>
<g id="b76"><circle class="d" cx="432" cy="75" r="1.7"/><text x="434" y="85">76</text></g>
<g id="b17"><circle class="d" cx="291" cy="69" r="1.7"/><text x="293" y="79">17</text></g>
<g id="b63"><circle class="d" cx="318" cy="63" r="1.7"/><text x="320" y="73">63</text></g>
<g id="b68"><circle class="d" cx="348" cy="77" r="1.7"/><text x="350" y="87">68</text></g>
<g id="b18"><circle class="d" cx="348" cy="93" r="1.7"/><text x="350" y="103">18</text></g>
<g id="b139"><circle class="d" cx="282" cy="88" r="1.7"/><text x="284" y="98">139</text></g>
<g id="b72"><circle class="d" cx="316" cy="99" r="1.7"/><text x="318" y="109">72</text></g>
<g id="b75"><circle class="d" cx="274" cy="108" r="1.7"/><text x="276" y="118">75</text></g>
<g id="b74"><circle class="d" cx="300" cy="106" r="1.7"/><text x="302" y="116">74</text></g>
<g id="b82"><circle class="d" cx="336" cy="119" r="1.7"/><text x="338" y="129">82</text></g>
<g id="b73"><circle class="d" cx="360" cy="117" r="1.7"/><text x="362" y="127">73</text></g>
<g id="b219"><circle class="r" cx="187" cy="94" r="5.5"/><text x="189" y="104">219</text></g>
<g id="b70"><circle class="d" cx="208" cy="88" r="1.7"/><text x="210" y="98">70</text></g>
<g id="b158"><circle class="d" cx="159" cy="106" r="1.7"/><text x="161" y="116">158</text></g>
<g id="b137"><circle class="r" cx="185" cy="123" r="5"/><text x="187" y="133">137</text></g>
<g id="b7"><circle class="r" cx="221" cy="122" r="2"/><text x="223" y="132">7</text></g>
<g id="b162"><circle class="d" cx="137" cy="132" r="1.7"/><text x="139" y="142">162</text></g>
<g id="b161"><circle class="d" cx="177" cy="141" r="1.7"/><text x="179" y="151">161</text></g>
<g id="b185"><circle class="d" cx="159" cy="147" r="1.7"/><text x="161" y="157">185</text></g>
<g id="b141"><circle class="d" cx="212" cy="150" r="1.7"/><text x="214" y="160">141</text></g>
<g id="b64"><circle class="d" cx="228" cy="162" r="1.7"/><text x="230" y="172">64</text></g>
<g id="b226"><circle class="r" cx="122" cy="167" r="5"/><text x="124" y="177">226</text></g>
<g id="b160"><circle class="d" cx="162" cy="168" r="1.7"/><text x="164" y="178">160</text></g>
<g id="b253"><circle class="d" cx="184" cy="164" r="1.7"/><text x="186" y="174">253</text></g>
<g id="b155"><circle class="d" cx="104" cy="186" r="1.7"/><text x="106" y="196">155</text></g>
<g id="b69"><circle class="r" cx="154" cy="192" r="2"/><text x="156" y="202">69</text></g>
<g id="b181"><circle class="d" cx="127" cy="201" r="1.7"/><text x="129" y="211">181</text></g>
<g id="b159"><circle class="d" cx="118" cy="215" r="1.7"/><text x="120" y="225">159</text></g>
<g id="b156"><circle class="d" cx="139" cy="221" r="1.7"/><text x="141" y="231">156</text></g>
<g id="b231"><circle class="d" cx="157" cy="217" r="1.7"/><text x="159" y="227">231</text></g>
<g id="b21"><circle class="d" cx="259" cy="125" r="1.7"/><text x="261" y="135">21</text></g>
<g id="b190"><circle class="d" cx="239" cy="137" r="1.7"/><text x="241" y="147">190</text></g>
<g id="b76-2"><circle class="d" cx="251" cy="143" r="1.7"/><text x="253" y="153">76</text></g>
<g id="b1"><circle class="d" cx="294" cy="142" r="1.7"/><text x="296" y="152">1</text></g>
<g id="b79"><circle class="d" cx="247" cy="153" r="1.7"/><text x="249" y="163">79</text></g>
<g id="b41"><circle class="d" cx="269" cy="158" r="1.7"/><text x="271" y="168">41</text></g>
<g id="b218"><circle class="r" cx="302" cy="159" r="5"/><text x="304" y="169">218</text></g>
<g id="b225"><circle class="r" cx="339" cy="170" r="5.5"/><text x="341" y="180">225</text></g>
<g id="b6"><circle class="d" cx="262" cy="179" r="1.7"/><text x="264" y="189">6</text></g>
<g id="b83"><circle class="d" cx="265" cy="197" r="1.7"/><text x="267" y="207">83</text></g>
<g id="b237"><circle class="d" cx="282" cy="193" r="1.7"/><text x="284" y="203">237</text></g>
<g id="b221"><circle class="d" cx="322" cy="201" r="1.7"/><text x="324" y="211">221</text></g>
<g id="b173"><circle class="r" cx="365" cy="195" r="6"/><text x="367" y="205">173</text></g>
<g id="b209"><circle class="d" cx="332" cy="214" r="1.7"/><text x="334" y="224">209</text></g>
<g id="b50"><circle class="d" cx="241" cy="213" r="1.7"/><text x="243" y="223">50</text></g>
<g id="b49"><circle class="d" cx="263" cy="224" r="1.7"/><text x="265" y="234">49</text></g>
<g id="b62"><circle class="d" cx="495" cy="132" r="1.7"/><text x="497" y="142">62</text></g>
<g id="b198"><circle class="d" cx="443" cy="139" r="1.7"/><text x="445" y="149">198</text></g>
<g id="b199"><circle class="d" cx="424" cy="148" r="1.7"/><text x="426" y="158">199</text></g>
<g id="b203"><circle class="d" cx="473" cy="146" r="1.7"/><text x="475" y="156">203</text></g>
<g id="b255"><circle class="d" cx="456" cy="155" r="1.7"/><text x="458" y="165">255</text></g>
<g id="b256"><circle class="d" cx="482" cy="157" r="1.7"/><text x="484" y="167">256</text></g>
<g id="b197"><circle class="d" cx="437" cy="172" r="1.7"/><text x="439" y="182">197</text></g>
<g id="b260"><circle class="d" cx="487" cy="176" r="1.7"/><text x="489" y="186">260</text></g>
<g id="b258"><circle class="d" cx="418" cy="188" r="1.7"/><text x="420" y="198">258</text></g>
<g id="b210"><circle class="d" cx="517" cy="189" r="1.7"/><text x="519" y="199">210</text></g>
<g id="b188"><circle class="d" cx="454" cy="197" r="1.7"/><text x="456" y="207">188</text></g>
<g id="b85"><circle class="r" cx="493" cy="206" r="3"/><text x="495" y="216">85</text></g>
<g id="b254"><circle class="d" cx="413" cy="206" r="1.7"/><text x="415" y="216">254</text></g>
<g id="b195"><circle class="d" cx="435" cy="214" r="1.7"/><text x="437" y="224">195</text></g>
<g id="b215"><circle class="d" cx="522" cy="216" r="1.7"/><text x="524" y="226">215</text></g>
<g id="b84"><circle class="d" cx="543" cy="221" r="1.7"/><text x="545" y="231">84</text></g>
<g id="b227"><circle class="d" cx="203" cy="227" r="1.7"/><text x="205" y="237">227</text></g>
<g id="b172"><circle class="d" cx="64" cy="244" r="1.7"/><text x="66" y="254">172</text></g>
<g id="b151"><circle class="d" cx="88" cy="252" r="1.7"/><text x="90" y="262">151</text></g>
<g id="b11"><circle class="d" cx="180" cy="244" r="1.7"/><text x="182" y="254">11</text></g>
<g id="b53"><circle class="d" cx="222" cy="241" r="1.7"/><text x="224" y="251">53</text></g>
<g id="b71"><circle class="d" cx="125" cy="253" r="1.7"/><text x="127" y="263">71</text></g>
<g id="b140"><circle class="r" cx="177" cy="265" r="3"/><text x="179" y="275">140</text></g>
<g id="b163"><circle class="d" cx="208" cy="267" r="1.7"/><text x="210" y="277">163</text></g>
<g id="b224"><circle class="r" cx="94" cy="270" r="5"/><text x="96" y="280">224</text></g>
<g id="b233"><circle class="d" cx="138" cy="270" r="1.7"/><text x="140" y="280">233</text></g>
<g id="b137-2"><circle class="r" cx="183" cy="284" r="3.5"/><text x="185" y="294">137</text></g>
<g id="b191"><circle class="d" cx="110" cy="287" r="1.7"/><text x="112" y="297">191</text></g>
<g id="b263"><circle class="d" cx="79" cy="296" r="1.7"/><text x="81" y="306">263</text></g>
<g id="b164"><circle class="d" cx="204" cy="303" r="1.7"/><text x="206" y="313">164</text></g>
<g id="b192"><circle class="d" cx="122" cy="309" r="1.7"/><text x="124" y="319">192</text></g>
<g id="b187"><circle class="d" cx="152" cy="304" r="1.7"/><text x="154" y="314">187</text></g>
<g id="b193"><circle class="d" cx="136" cy="323" r="1.7"/><text x="138" y="333">193</text></g>
<g id="b223"><circle class="r" cx="102" cy="328" r="5"/><text x="104" y="338">223</text></g>
<g id="b118"><circle class="d" cx="216" cy="344" r="1.7"/><text x="218" y="354">118</text></g>
<g id="b214"><circle class="d" cx="109" cy="367" r="1.7"/><text x="111" y="377">214</text></g>
<g id="b183"><circle class="r" cx="132" cy="374" r="9.5"/><text x="134" y="384">183</text></g>
<g id="b143"><circle class="d" cx="74" cy="374" r="1.7"/><text x="76" y="384">143</text></g>
<g id="b200"><circle class="d" cx="96" cy="391" r="1.7"/><text x="98" y="401">200</text></g>
<g id="b232"><circle class="d" cx="161" cy="390" r="1.7"/><text x="163" y="400">232</text></g>
<g id="b110"><circle class="d" cx="192" cy="400" r="1.7"/><text x="194" y="410">110</text></g>
<g id="b179"><circle class="d" cx="204" cy="385" r="1.7"/><text x="206" y="395">179</text></g>
<g id="b220"><circle class="d" cx="223" cy="385" r="1.7"/><text x="225" y="395">220</text></g>
<g id="b150"><circle class="d" cx="149" cy="409" r="1.7"/><text x="151" y="419">150</text></g>
<g id="b251"><circle class="d" cx="56" cy="407" r="1.7"/><text x="58" y="417">251</text></g>
<g id="b154"><circle class="d" cx="77" cy="405" r="1.7"/><text x="79" y="415">154</text></g>
<g id="b100"><circle class="d" cx="335" cy="227" r="1.7"/><text x="337" y="237">100</text></g>
<g id="b229"><circle class="d" cx="353" cy="227" r="1.7"/><text x="355" y="237">229</text></g>
<g id="b26"><circle class="d" cx="370" cy="228" r="1.7"/><text x="372" y="238">26</text></g>
<g id="b24"><circle class="d" cx="374" cy="239" r="1.7"/><text x="376" y="249">24</text></g>
<g id="b9"><circle class="d" cx="326" cy="244" r="1.7"/><text x="328" y="254">9</text></g>
<g id="b59"><circle class="d" cx="353" cy="241" r="1.7"/><text x="355" y="251">59</text></g>
<g id="b138"><circle class="r" cx="249" cy="246" r="6"/><text x="251" y="256">138</text></g>
<g id="b196"><circle class="d" cx="383" cy="256" r="1.7"/><text x="385" y="266">196</text></g>
<g id="b55"><circle class="d" cx="402" cy="254" r="1.7"/><text x="404" y="264">55</text></g>
<g id="b10"><circle class="d" cx="291" cy="263" r="1.7"/><text x="293" y="273">10</text></g>
<g id="b230"><circle class="d" cx="298" cy="274" r="1.7"/><text x="300" y="284">230</text></g>
<g id="b61"><circle class="d" cx="269" cy="276" r="1.7"/><text x="271" y="286">61</text></g>
<g id="b97"><circle class="d" cx="238" cy="279" r="1.7"/><text x="240" y="289">97</text></g>
<g id="b222"><circle class="d" cx="337" cy="265" r="1.7"/><text x="339" y="275">222</text></g>
<g id="b-hub"><circle class="r" cx="388" cy="273" r="2.5"/></g>
<g id="b29"><circle class="d" cx="352" cy="278" r="1.7"/><text x="354" y="288">29</text></g>
<g id="b114-2"><circle class="d" cx="370" cy="280" r="1.7"/><text x="372" y="290">114</text></g>
<g id="b147"><circle class="d" cx="380" cy="283" r="1.7"/><text x="382" y="293">147</text></g>
<g id="b101"><circle class="d" cx="414" cy="288" r="1.7"/><text x="416" y="298">101</text></g>
<g id="b174"><circle class="d" cx="297" cy="296" r="1.7"/><text x="299" y="306">174</text></g>
<g id="b98"><circle class="d" cx="326" cy="293" r="1.7"/><text x="328" y="303">98</text></g>
<g id="b145"><circle class="d" cx="366" cy="292" r="1.7"/><text x="368" y="302">145</text></g>
<g id="b96"><circle class="d" cx="381" cy="303" r="1.7"/><text x="383" y="313">96</text></g>
<g id="b65"><circle class="d" cx="241" cy="319" r="1.7"/><text x="243" y="329">65</text></g>
<g id="b168"><circle class="d" cx="303" cy="321" r="1.7"/><text x="305" y="331">168</text></g>
<g id="b130"><circle class="r" cx="331" cy="313" r="4"/><text x="333" y="323">130</text></g>
<g id="b148"><circle class="r" cx="376" cy="316" r="3.5"/><text x="378" y="326">148</text></g>
<g id="b12"><circle class="r" cx="404" cy="324" r="4"/><text x="406" y="334">12</text></g>
<g id="b167"><circle class="d" cx="253" cy="332" r="1.7"/><text x="255" y="342">167</text></g>
<g id="b262"><circle class="d" cx="273" cy="336" r="1.7"/><text x="275" y="346">262</text></g>
<g id="b13"><circle class="d" cx="283" cy="340" r="1.7"/><text x="285" y="350">13</text></g>
<g id="b108"><circle class="d" cx="384" cy="333" r="1.7"/><text x="386" y="343">108</text></g>
<g id="b142"><circle class="d" cx="314" cy="346" r="1.7"/><text x="316" y="356">142</text></g>
<g id="b20-2"><circle class="d" cx="329" cy="343" r="1.7"/><text x="331" y="353">20</text></g>
<g id="b186"><circle class="d" cx="364" cy="347" r="1.7"/><text x="366" y="357">186</text></g>
<g id="b58"><circle class="d" cx="237" cy="364" r="1.7"/><text x="239" y="374">58</text></g>
<g id="b170"><circle class="d" cx="260" cy="367" r="1.7"/><text x="262" y="377">170</text></g>
<g id="b178"><circle class="d" cx="288" cy="359" r="1.7"/><text x="290" y="369">178</text></g>
<g id="b14"><circle class="d" cx="340" cy="362" r="1.7"/><text x="342" y="372">14</text></g>
<g id="b247"><circle class="d" cx="390" cy="359" r="1.7"/><text x="392" y="369">247</text></g>
<g id="b217"><circle class="d" cx="322" cy="374" r="1.7"/><text x="324" y="384">217</text></g>
<g id="b128"><circle class="d" cx="355" cy="374" r="1.7"/><text x="357" y="384">128</text></g>
<g id="b208"><circle class="d" cx="271" cy="377" r="1.7"/><text x="273" y="387">208</text></g>
<g id="b99"><circle class="d" cx="286" cy="383" r="1.7"/><text x="288" y="393">99</text></g>
<g id="b125-2"><circle class="d" cx="408" cy="377" r="1.7"/><text x="410" y="387">125</text></g>
<g id="b205"><circle class="d" cx="419" cy="374" r="1.7"/><text x="421" y="384">205</text></g>
<g id="b57"><circle class="d" cx="364" cy="387" r="1.7"/><text x="366" y="397">57</text></g>
<g id="b45"><circle class="d" cx="334" cy="394" r="1.7"/><text x="336" y="404">45</text></g>
<g id="b166"><circle class="d" cx="252" cy="404" r="1.7"/><text x="254" y="414">166</text></g>
<g id="b43"><circle class="d" cx="312" cy="406" r="1.7"/><text x="314" y="416">43</text></g>
<g id="b252"><circle class="d" cx="391" cy="407" r="1.7"/><text x="393" y="417">252</text></g>
<g id="b169"><circle class="d" cx="345" cy="410" r="1.7"/><text x="347" y="420">169</text></g>
<g id="b88"><circle class="d" cx="419" cy="399" r="1.7"/><text x="421" y="409">88</text></g>
<g id="b91"><circle class="d" cx="407" cy="413" r="1.7"/><text x="409" y="423">91</text></g>
<g id="b2"><circle class="r" cx="432" cy="266" r="2"/><text x="434" y="276">2</text></g>
<g id="b20"><circle class="r" cx="422" cy="257" r="2"/><text x="424" y="267">20</text></g>
<g id="b189"><circle class="r" cx="496" cy="231" r="6.5"/><text x="498" y="241">189</text></g>
<g id="b240"><circle class="d" cx="518" cy="234" r="1.7"/><text x="520" y="244">240</text></g>
<g id="b184"><circle class="d" cx="458" cy="237" r="1.7"/><text x="460" y="247">184</text></g>
<g id="b44"><circle class="r" cx="441" cy="247" r="2"/><text x="443" y="257">44</text></g>
<g id="b89"><circle class="d" cx="478" cy="248" r="1.7"/><text x="480" y="258">89</text></g>
<g id="b19"><circle class="d" cx="498" cy="258" r="1.7"/><text x="500" y="268">19</text></g>
<g id="b102"><circle class="d" cx="482" cy="265" r="1.7"/><text x="484" y="275">102</text></g>
<g id="b216"><circle class="d" cx="522" cy="268" r="1.7"/><text x="524" y="278">216</text></g>
<g id="b66"><circle class="d" cx="456" cy="308" r="1.7"/><text x="458" y="318">66</text></g>
<g id="b239"><circle class="d" cx="515" cy="304" r="1.7"/><text x="517" y="314">239</text></g>
<g id="b90"><circle class="d" cx="533" cy="304" r="1.7"/><text x="535" y="314">90</text></g>
<g id="b31"><circle class="r" cx="448" cy="326" r="3.5"/><text x="450" y="336">31</text></g>
<g id="b3"><circle class="r" cx="471" cy="330" r="2"/><text x="473" y="340">3</text></g>
<g id="b4"><circle class="r" cx="422" cy="338" r="14"/><text x="424" y="346">4</text></g>
<g id="b87"><circle class="d" cx="520" cy="324" r="1.7"/><text x="522" y="334">87</text></g>
<g id="b182"><circle class="d" cx="543" cy="328" r="1.7"/><text x="545" y="338">182</text></g>
<g id="b129"><circle class="d" cx="513" cy="350" r="1.7"/><text x="515" y="360">129</text></g>
<g id="b241"><circle class="d" cx="454" cy="363" r="1.7"/><text x="456" y="373">241</text></g>
<g id="b81"><circle class="d" cx="477" cy="370" r="1.7"/><text x="479" y="380">81</text></g>
<g id="b131"><circle class="d" cx="460" cy="400" r="1.7"/><text x="462" y="410">131</text></g>
<g id="b114"><circle class="d" cx="475" cy="398" r="1.7"/><text x="477" y="408">114</text></g>
<g id="b115"><circle class="r" cx="489" cy="406" r="4"/><text x="491" y="416">115</text></g>
<g id="b40"><circle class="r" cx="514" cy="399" r="4"/><text x="516" y="409">40</text></g>
<g id="b228"><circle class="d" cx="552" cy="407" r="1.7"/><text x="554" y="417">228</text></g>
<g id="b171"><circle class="d" cx="177" cy="419" r="1.7"/><text x="179" y="429">171</text></g>
<g id="b5"><circle class="r" cx="166" cy="430" r="7"/><text x="167" y="437">5</text></g>
<g id="b204"><circle class="d" cx="223" cy="422" r="1.7"/><text x="225" y="432">204</text></g>
<g id="b242"><circle class="d" cx="185" cy="441" r="1.7"/><text x="187" y="451">242</text></g>
<g id="b261"><circle class="d" cx="203" cy="436" r="1.7"/><text x="205" y="446">261</text></g>
<g id="b175"><circle class="d" cx="208" cy="448" r="1.7"/><text x="210" y="458">175</text></g>
<g id="b176"><circle class="d" cx="223" cy="459" r="1.7"/><text x="225" y="469">176</text></g>
<g id="b257"><circle class="d" cx="212" cy="465" r="1.7"/><text x="214" y="475">257</text></g>
<g id="b236"><circle class="d" cx="38" cy="448" r="1.7"/><text x="40" y="458">236</text></g>
<g id="b80"><circle class="d" cx="38" cy="468" r="1.7"/><text x="40" y="478">80</text></g>
<g id="b152"><circle class="d" cx="90" cy="496" r="1.7"/><text x="92" y="506">152</text></g>
<g id="b249"><circle class="d" cx="72" cy="503" r="1.7"/><text x="74" y="513">249</text></g>
<g id="b194"><circle class="d" cx="138" cy="504" r="1.7"/><text x="140" y="514">194</text></g>
<g id="b25"><circle class="r" cx="169" cy="510" r="8.5"/><text x="171" y="520">25</text></g>
<g id="b94"><circle class="d" cx="206" cy="512" r="1.7"/><text x="208" y="522">94</text></g>
<g id="b23"><circle class="d" cx="227" cy="485" r="1.7"/><text x="229" y="495">23</text></g>
<g id="b127"><circle class="d" cx="213" cy="532" r="1.7"/><text x="215" y="542">127</text></g>
<g id="b153"><circle class="d" cx="149" cy="541" r="1.7"/><text x="151" y="551">153</text></g>
<g id="b22"><circle class="r" cx="232" cy="548" r="4.5"/><text x="234" y="558">22</text></g>
<g id="b250"><circle class="d" cx="130" cy="559" r="1.7"/><text x="132" y="569">250</text></g>
<g id="b243"><circle class="d" cx="223" cy="578" r="1.7"/><text x="225" y="588">243</text></g>
<g id="b27"><circle class="d" cx="288" cy="418" r="1.7"/><text x="290" y="428">27</text></g>
<g id="b46"><circle class="d" cx="324" cy="419" r="1.7"/><text x="326" y="429">46</text></g>
<g id="b165"><circle class="r" cx="291" cy="428" r="4"/><text x="293" y="438">165</text></g>
<g id="b125"><circle class="d" cx="242" cy="438" r="1.7"/><text x="244" y="448">125</text></g>
<g id="b149"><circle class="d" cx="262" cy="436" r="1.7"/><text x="264" y="446">149</text></g>
<g id="b211"><circle class="d" cx="281" cy="445" r="1.7"/><text x="283" y="455">211</text></g>
<g id="b52"><circle class="d" cx="387" cy="430" r="1.7"/><text x="389" y="440">52</text></g>
<g id="b67"><circle class="r" cx="348" cy="439" r="2.5"/><text x="350" y="449">67</text></g>
<g id="b177"><circle class="r" cx="258" cy="457" r="2.5"/><text x="260" y="467">177</text></g>
<g id="b106"><circle class="d" cx="413" cy="445" r="1.7"/><text x="415" y="455">106</text></g>
<g id="b56"><circle class="d" cx="355" cy="461" r="1.7"/><text x="357" y="471">56</text></g>
<g id="b136"><circle class="r" cx="345" cy="472" r="4"/><text x="347" y="482">136</text></g>
<g id="b104"><circle class="d" cx="418" cy="469" r="1.7"/><text x="420" y="479">104</text></g>
<g id="b213"><circle class="d" cx="297" cy="472" r="1.7"/><text x="299" y="482">213</text></g>
<g id="b28"><circle class="d" cx="256" cy="476" r="1.7"/><text x="258" y="486">28</text></g>
<g id="b124"><circle class="d" cx="331" cy="481" r="1.7"/><text x="333" y="491">124</text></g>
<g id="b207"><circle class="d" cx="303" cy="494" r="1.7"/><text x="305" y="504">207</text></g>
<g id="b180"><circle class="d" cx="337" cy="497" r="1.7"/><text x="339" y="507">180</text></g>
<g id="b105"><circle class="r" cx="413" cy="492" r="3"/><text x="415" y="502">105</text></g>
<g id="b111"><circle class="d" cx="242" cy="516" r="1.7"/><text x="244" y="526">111</text></g>
<g id="b244"><circle class="d" cx="291" cy="516" r="1.7"/><text x="293" y="526">244</text></g>
<g id="b122"><circle class="d" cx="316" cy="512" r="1.7"/><text x="318" y="522">122</text></g>
<g id="b126"><circle class="d" cx="306" cy="527" r="1.7"/><text x="308" y="537">126</text></g>
<g id="b37"><circle class="d" cx="370" cy="509" r="1.7"/><text x="372" y="519">37</text></g>
<g id="b39"><circle class="d" cx="340" cy="522" r="1.7"/><text x="342" y="532">39</text></g>
<g id="b78"><circle class="d" cx="261" cy="531" r="1.7"/><text x="263" y="541">78</text></g>
<g id="b235"><circle class="d" cx="277" cy="538" r="1.7"/><text x="279" y="548">235</text></g>
<g id="b201"><circle class="d" cx="351" cy="538" r="1.7"/><text x="353" y="548">201</text></g>
<g id="b34"><circle class="d" cx="363" cy="540" r="1.7"/><text x="365" y="550">34</text></g>
<g id="b35"><circle class="d" cx="372" cy="529" r="1.7"/><text x="374" y="539">35</text></g>
<g id="b132"><circle class="d" cx="387" cy="528" r="1.7"/><text x="389" y="538">132</text></g>
<g id="b245"><circle class="d" cx="406" cy="536" r="1.7"/><text x="408" y="546">245</text></g>
<g id="b95"><circle class="r" cx="383" cy="547" r="5"/><text x="385" y="557">95</text></g>
<g id="b92"><circle class="d" cx="345" cy="576" r="1.7"/><text x="347" y="586">92</text></g>
<g id="b202"><circle class="d" cx="319" cy="583" r="1.7"/><text x="321" y="593">202</text></g>
<g id="b212"><circle class="d" cx="314" cy="608" r="1.7"/><text x="316" y="618">212</text></g>
<g id="b107"><circle class="r" cx="470" cy="417" r="4"/><text x="472" y="427">107</text></g>
<g id="b15"><circle class="r" cx="531" cy="414" r="4"/><text x="533" y="424">15</text></g>
<g id="b42"><circle class="r" cx="573" cy="422" r="2"/><text x="575" y="432">42</text></g>
<g id="b259"><circle class="d" cx="435" cy="419" r="1.7"/><text x="437" y="429">259</text></g>
<g id="b54"><circle class="d" cx="437" cy="439" r="1.7"/><text x="439" y="449">54</text></g>
<g id="b120"><circle class="d" cx="478" cy="437" r="1.7"/><text x="480" y="447">120</text></g>
<g id="b116"><circle class="d" cx="515" cy="437" r="1.7"/><text x="517" y="447">116</text></g>
<g id="b60"><circle class="r" cx="533" cy="448" r="4"/><text x="535" y="458">60</text></g>
<g id="b146"><circle class="d" cx="554" cy="439" r="1.7"/><text x="556" y="449">146</text></g>
<g id="b109"><circle class="r" cx="464" cy="448" r="2.5"/><text x="466" y="458">109</text></g>
<g id="b113"><circle class="d" cx="504" cy="456" r="1.7"/><text x="506" y="466">113</text></g>
<g id="b86"><circle class="d" cx="554" cy="456" r="1.7"/><text x="556" y="466">86</text></g>
<g id="b238"><circle class="d" cx="589" cy="452" r="1.7"/><text x="591" y="462">238</text></g>
<g id="b133"><circle class="d" cx="450" cy="468" r="1.7"/><text x="452" y="478">133</text></g>
<g id="b51"><circle class="d" cx="466" cy="478" r="1.7"/><text x="468" y="488">51</text></g>
<g id="b103"><circle class="d" cx="446" cy="485" r="1.7"/><text x="448" y="495">103</text></g>
<g id="b33"><circle class="d" cx="554" cy="479" r="1.7"/><text x="556" y="489">33</text></g>
<g id="b206"><circle class="d" cx="587" cy="483" r="1.7"/><text x="589" y="493">206</text></g>
<g id="b121"><circle class="r" cx="523" cy="494" r="4"/><text x="525" y="504">121</text></g>
<g id="b117"><circle class="r" cx="499" cy="497" r="4"/><text x="501" y="507">117</text></g>
<g id="b48"><circle class="r" cx="424" cy="504" r="4"/><text x="426" y="514">48</text></g>
<g id="b47"><circle class="d" cx="452" cy="507" r="1.7"/><text x="454" y="517">47</text></g>
<g id="b93"><circle class="r" cx="482" cy="507" r="4"/><text x="484" y="517">93</text></g>
<g id="b119"><circle class="r" cx="528" cy="521" r="4"/><text x="530" y="531">119</text></g>
<g id="b36"><circle class="d" cx="437" cy="538" r="1.7"/><text x="439" y="548">36</text></g>
<g id="b32"><circle class="d" cx="501" cy="547" r="1.7"/><text x="503" y="557">32</text></g>
<g id="b38"><circle class="d" cx="478" cy="556" r="1.7"/><text x="480" y="566">38</text></g>
<g id="b135"><circle class="d" cx="494" cy="559" r="1.7"/><text x="496" y="569">135</text></g>
<g id="b112"><circle class="d" cx="424" cy="568" r="1.7"/><text x="426" y="578">112</text></g>
</g>
<g id="captions">
<text class="cap" x="329" y="662">(a) Degree Centrality</text>
<text class="cap" x="941" y="662">(b) Betweenness Centrality</text>
</g>
</svg>
